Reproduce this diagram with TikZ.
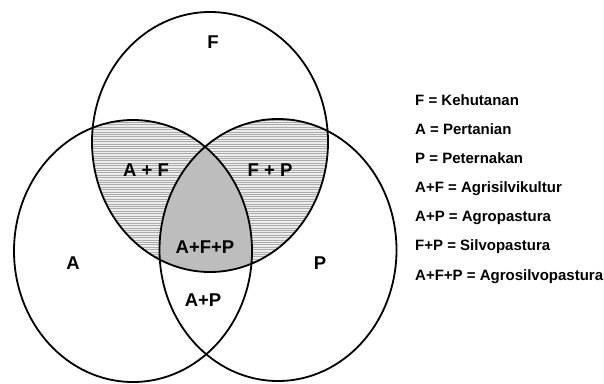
\documentclass[tikz,border=0pt]{standalone}
\usepackage{fontspec}
\setmainfont{Liberation Sans}
\begin{document}
\begin{tikzpicture}[x=1pt,y=-1pt,
  ring/.style={draw=black,line width=1.8pt},
  hatchline/.style={draw=gray!65,line width=0.8pt},
  lbl/.style={font=\fontsize{18.5}{20}\selectfont\bfseries,inner sep=0pt},
  leg/.style={font=\fontsize{15}{17}\selectfont\bfseries,anchor=base west,inner sep=0pt}]
\useasboundingbox (0,0) rectangle (604,383);
% shading
\begin{scope}
  \clip (210,142) ellipse [x radius=118pt,y radius=130pt];
  \begin{scope}
    \clip (133,251) ellipse [x radius=119pt,y radius=131pt];
    \fill[gray!15] (0,0) rectangle (400,383);
    \foreach \yy in {0,2.4,...,383} \draw[hatchline] (0,\yy) -- (400,\yy);
  \end{scope}
  \begin{scope}
    \clip (278,250) ellipse [x radius=118.5pt,y radius=131pt];
    \fill[gray!15] (0,0) rectangle (400,383);
    \foreach \yy in {0,2.4,...,383} \draw[hatchline] (0,\yy) -- (400,\yy);
  \end{scope}
  \begin{scope}
    \clip (133,251) ellipse [x radius=119pt,y radius=131pt];
    \fill[gray!52] (278,250) ellipse [x radius=118.5pt,y radius=131pt];
  \end{scope}
\end{scope}
% circles
\draw[ring] (210,142) ellipse [x radius=118pt,y radius=130pt];
\draw[ring] (133,251) ellipse [x radius=119pt,y radius=131pt];
\draw[ring] (278,250) ellipse [x radius=118.5pt,y radius=131pt];
% labels
\node[lbl] (lF) at (213,42) {F};
\node[lbl] (lA) at (73,263) {A};
\node[lbl] (lP) at (320,263) {P};
\node[lbl] (lAF) at (146,170) {A + F};
\node[lbl] (lFP) at (270,170) {F + P};
\node[lbl] (lAFP) at (205,247) {A+F+P};
\node[lbl] (lAP) at (203,300) {A+P};
% legend
\node[leg] (g1) at (415,105.7) {F = Kehutanan};
\node[leg] (g2) at (415,134.7) {A = Pertanian};
\node[leg] (g3) at (415,163.8) {P = Peternakan};
\node[leg] (g4) at (415,192.8) {A+F = Agrisilvikultur};
\node[leg] (g5) at (415,221.9) {A+P = Agropastura};
\node[leg] (g6) at (415,250.9) {F+P = Silvopastura};
\node[leg] (g7) at (415,280) {A+F+P = Agrosilvopastura};
\end{tikzpicture}
\end{document}
